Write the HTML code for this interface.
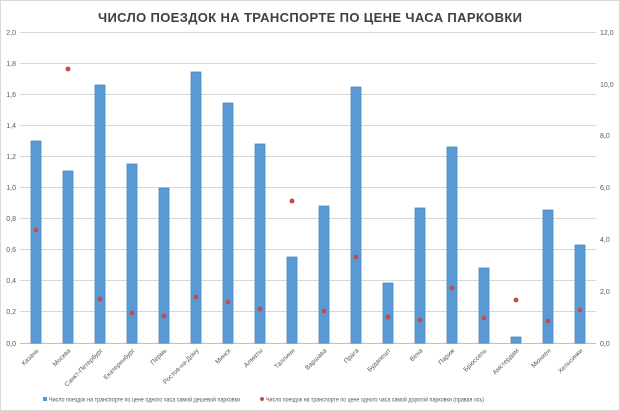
<!DOCTYPE html>
<html><head><meta charset="utf-8"><style>
html,body{margin:0;padding:0;background:#fff}
svg{display:block;font-family:"Liberation Sans",sans-serif}
</style></head><body>
<svg width="620" height="411" viewBox="0 0 620 411" xmlns="http://www.w3.org/2000/svg">
<rect x="0.5" y="0.5" width="619" height="410" fill="#fff" stroke="#d9d9d9"/>
<text x="98" y="22" font-size="13" font-weight="bold" fill="#404040" textLength="424" lengthAdjust="spacing">ЧИСЛО ПОЕЗДОК НА ТРАНСПОРТЕ ПО ЦЕНЕ ЧАСА ПАРКОВКИ</text>
<g stroke="#d9d9d9" stroke-width="1">
<line x1="20" x2="596" y1="32.5" y2="32.5"/><line x1="20" x2="596" y1="63.5" y2="63.5"/>
<line x1="20" x2="596" y1="94.5" y2="94.5"/><line x1="20" x2="596" y1="125.5" y2="125.5"/>
<line x1="20" x2="596" y1="156.5" y2="156.5"/><line x1="20" x2="596" y1="187.5" y2="187.5"/>
<line x1="20" x2="596" y1="218.5" y2="218.5"/><line x1="20" x2="596" y1="249.5" y2="249.5"/>
<line x1="20" x2="596" y1="280.5" y2="280.5"/><line x1="20" x2="596" y1="311.5" y2="311.5"/>
</g>
<line x1="20" x2="596" y1="343.5" y2="343.5" stroke="#bfbfbf"/>
<g font-size="7" fill="#595959" text-anchor="end">
<text x="16" y="35">2,0</text><text x="16" y="66">1,8</text><text x="16" y="97">1,6</text><text x="16" y="128">1,4</text><text x="16" y="159">1,2</text><text x="16" y="190">1,0</text><text x="16" y="221">0,8</text><text x="16" y="252">0,6</text><text x="16" y="283">0,4</text><text x="16" y="314">0,2</text><text x="16" y="346">0,0</text>
</g>
<g font-size="7" fill="#595959">
<text x="600" y="35">12,0</text><text x="600" y="87">10,0</text><text x="600" y="138">8,0</text><text x="600" y="190">6,0</text><text x="600" y="242">4,0</text><text x="600" y="294">2,0</text><text x="600" y="346">0,0</text>
</g>
<g fill="#5b9bd5" stroke="#4a86c0" stroke-width="0.8">
<rect x="31" y="141" width="10" height="202"/>
<rect x="63" y="171" width="10" height="172"/>
<rect x="95" y="85" width="10" height="258"/>
<rect x="127" y="164" width="10" height="179"/>
<rect x="159" y="188" width="10" height="155"/>
<rect x="191" y="72" width="10" height="271"/>
<rect x="223" y="103" width="10" height="240"/>
<rect x="255" y="144" width="10" height="199"/>
<rect x="287" y="257" width="10" height="86"/>
<rect x="319" y="206" width="10" height="137"/>
<rect x="351" y="87" width="10" height="256"/>
<rect x="383" y="283" width="10" height="60"/>
<rect x="415" y="208" width="10" height="135"/>
<rect x="447" y="147" width="10" height="196"/>
<rect x="479" y="268" width="10" height="75"/>
<rect x="511" y="337" width="10" height="6"/>
<rect x="543" y="210" width="10" height="133"/>
<rect x="575" y="245" width="10" height="98"/>
</g>
<g fill="#c0504d">
<circle cx="36" cy="230" r="2.5"/><circle cx="68" cy="69" r="2.5"/><circle cx="100" cy="299" r="2.5"/>
<circle cx="132" cy="313" r="2.5"/><circle cx="164" cy="316" r="2.5"/><circle cx="196" cy="297" r="2.5"/>
<circle cx="228" cy="302" r="2.5"/><circle cx="260" cy="309" r="2.5"/><circle cx="292" cy="201" r="2.5"/>
<circle cx="324" cy="311" r="2.5"/><circle cx="356" cy="257" r="2.5"/><circle cx="388" cy="317" r="2.5"/>
<circle cx="420" cy="320" r="2.5"/><circle cx="452" cy="288" r="2.5"/><circle cx="484" cy="318" r="2.5"/>
<circle cx="516" cy="300" r="2.5"/><circle cx="548" cy="321" r="2.5"/><circle cx="580" cy="310" r="2.5"/>
</g>
<g font-size="6.5" fill="#595959" text-anchor="end">
<text transform="translate(39,351) rotate(-45)">Казань</text>
<text transform="translate(71,351) rotate(-45)">Москва</text>
<text transform="translate(103,351) rotate(-45)">Санкт-Петербург</text>
<text transform="translate(135,351) rotate(-45)">Екатеринбург</text>
<text transform="translate(167,351) rotate(-45)">Пермь</text>
<text transform="translate(199,351) rotate(-45)">Ростов-на-Дону</text>
<text transform="translate(231,351) rotate(-45)">Минск</text>
<text transform="translate(263,351) rotate(-45)">Алматы</text>
<text transform="translate(295,351) rotate(-45)">Таллинн</text>
<text transform="translate(327,351) rotate(-45)">Варшава</text>
<text transform="translate(359,351) rotate(-45)">Прага</text>
<text transform="translate(391,351) rotate(-45)">Будапешт</text>
<text transform="translate(423,351) rotate(-45)">Вена</text>
<text transform="translate(455,351) rotate(-45)">Париж</text>
<text transform="translate(487,351) rotate(-45)">Брюссель</text>
<text transform="translate(519,351) rotate(-45)">Амстердам</text>
<text transform="translate(551,351) rotate(-45)">Мюнхен</text>
<text transform="translate(583,351) rotate(-45)">Хельсинки</text>
</g>
<rect x="43" y="397" width="4" height="4" fill="#5b9bd5"/>
<text x="49" y="401.5" font-size="6.5" fill="#595959" textLength="191" lengthAdjust="spacingAndGlyphs">Число поездок на транспорте по цене одного часа самой дешевой парковки</text>
<circle cx="262" cy="399" r="2" fill="#c0504d"/>
<text x="266" y="401.5" font-size="6.5" fill="#595959" textLength="218" lengthAdjust="spacingAndGlyphs">Число поездок на транспорте по цене одного часа самой дорогой парковки (правая ось)</text>
</svg>
</body></html>
